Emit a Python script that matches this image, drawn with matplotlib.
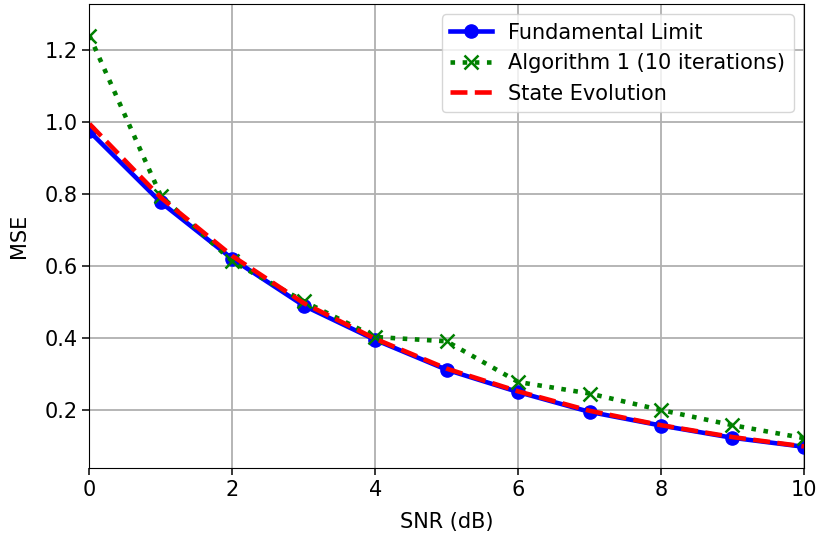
import matplotlib
matplotlib.use('Agg')
import matplotlib.pyplot as plt

snr = [0, 1, 2, 3, 4, 5, 6, 7, 8, 9, 10]
mse_limit = [0.974, 0.777, 0.620, 0.490, 0.395, 0.312, 0.250, 0.195, 0.157, 0.123, 0.098]
mse_alg = [1.240, 0.795, 0.613, 0.502, 0.403, 0.391, 0.278, 0.246, 0.200, 0.158, 0.122]
mse_se = [0.995, 0.790, 0.628, 0.497, 0.398, 0.315, 0.252, 0.198, 0.158, 0.125, 0.099]

plt.rcParams['font.size'] = 15

fig = plt.figure(figsize=(8.17, 5.35), dpi=100)
ax = fig.add_axes([0.1095, 0.1252, 0.8745, 0.8673])

ax.plot(snr, mse_limit, 'b-o', lw=3.3, ms=9.5, label='Fundamental Limit')
ax.plot(snr, mse_alg, 'g:x', lw=3.3, ms=10, mew=1.8, label='Algorithm 1 (10 iterations)')
ax.plot(snr, mse_se, 'r--', lw=3.3, label='State Evolution')

ax.set_xlim(0, 10)
ax.set_ylim(0.039, 1.328)
ax.set_yticks([0.2, 0.4, 0.6, 0.8, 1.0, 1.2])
ax.tick_params(length=5, width=1.1)
ax.grid(True, color='#b0b0b0', lw=1.3)
ax.set_xlabel('SNR (dB)', labelpad=9)
ax.set_ylabel('MSE', labelpad=11)
ax.legend(loc='upper right')

fig.savefig('out.png', dpi=100)
